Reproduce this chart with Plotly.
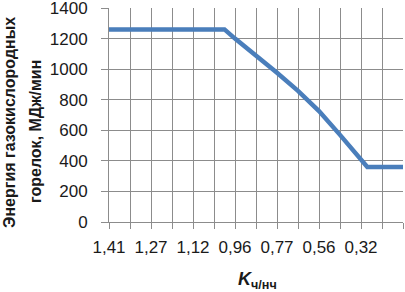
import plotly.graph_objects as go

# Category positions (index along the category axis) and energy values
x_pos = [0, 5.5, 6, 7, 8, 9, 10, 11, 12, 12.3, 14]
energy = [1260, 1260, 1200, 1090, 976, 858, 726, 570, 410, 360, 360]

# Tick labels (every second category); last category unlabeled
tick_positions = list(range(15))
tick_labels = ["1,41", "", "1,27", "", "1,12", "", "0,96", "", "0,77", "", "0,56", "", "0,32", "", ""]
y_ticks = [0, 200, 400, 600, 800, 1000, 1200, 1400]

y_title_1 = "Энергия газокислородных"
y_title_2 = "горелок, МДж/мин"
x_title = "<b><i>K</i></b><sub><b>ч/нч</b></sub>"

FONT = "Liberation Sans"
GRID = "#8c8c8c"

fig = go.Figure()
fig.add_trace(go.Scatter(
    x=x_pos, y=energy, mode="lines",
    line=dict(color="#4a7ebb", width=4.5),
    hoverinfo="skip", showlegend=False,
))

fig.update_layout(
    width=405, height=292,
    margin=dict(l=109, r=2, t=8, b=70, autoexpand=False),
    paper_bgcolor="white", plot_bgcolor="white",
    font=dict(family=FONT, size=17, color="#1a1a1a"),
    showlegend=False,
)
fig.update_xaxes(
    range=[0, 14], tickmode="array", tickvals=tick_positions, ticktext=tick_labels,
    showgrid=True, gridcolor=GRID, gridwidth=1,
    showline=True, linecolor=GRID, linewidth=1,
    ticks="outside", ticklen=6, tickcolor=GRID,
    tickfont=dict(family=FONT, size=17), ticklabelstandoff=4,
    ticklabeloverflow="allow",
    zeroline=False, fixedrange=True, automargin=False,
)
fig.update_yaxes(
    range=[0, 1400.01], tickmode="array", tickvals=y_ticks,
    ticktext=[str(v) for v in y_ticks],
    showgrid=True, gridcolor=GRID, gridwidth=1,
    showline=True, linecolor=GRID, linewidth=1,
    ticks="outside", ticklen=7, tickcolor=GRID,
    tickfont=dict(family=FONT, size=17), ticklabelstandoff=10,
    ticklabeloverflow="allow",
    zeroline=False, fixedrange=True, automargin=False,
)

title_font = dict(family=FONT, size=16, color="#1a1a1a", weight="bold")
fig.add_annotation(
    text=y_title_1, xref="paper", yref="paper",
    x=(9-109)/294, y=(222-123)/214, xanchor="center", yanchor="middle",
    textangle=-90, showarrow=False, font=title_font,
)
fig.add_annotation(
    text=y_title_2, xref="paper", yref="paper",
    x=(35-109)/294, y=(222-132)/214, xanchor="center", yanchor="middle",
    textangle=-90, showarrow=False, font=title_font,
)
fig.add_annotation(
    text=x_title, xref="paper", yref="paper",
    x=(257-109)/294, y=-(280-222)/214, xanchor="center", yanchor="middle",
    showarrow=False,
    font=dict(family=FONT, size=18, color="#1a1a1a"),
)

fig.write_html("out.html", post_script="document.body.style.margin='0';",
               config={"displayModeBar": False})
